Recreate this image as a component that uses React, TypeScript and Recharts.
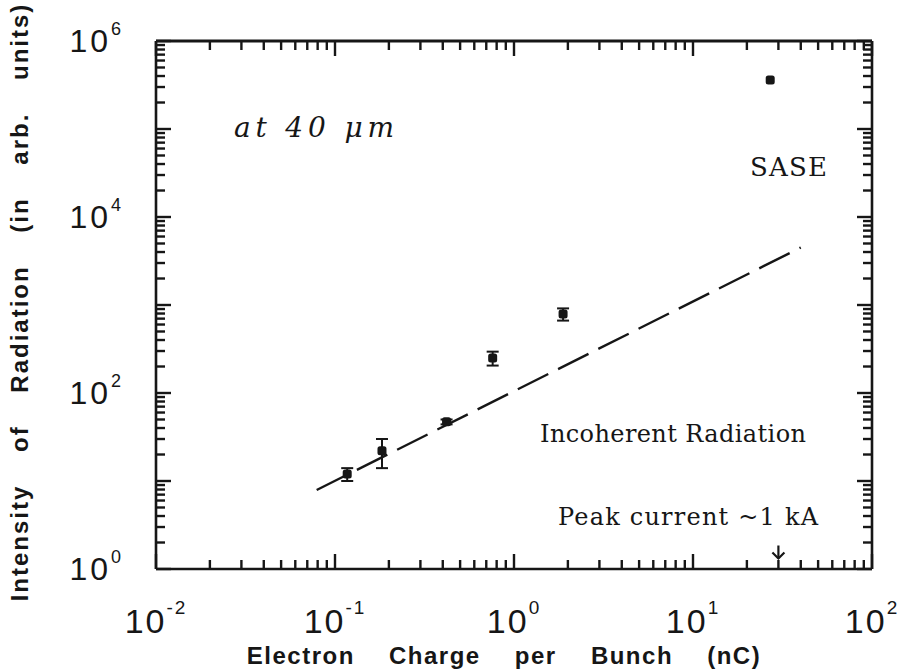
import { ScatterChart, Scatter, XAxis, YAxis, ErrorBar, ReferenceDot, ReferenceLine } from 'recharts';

// measured points: bunch charge (nC), radiated intensity (arb. units), vertical error
const chargeNC = [0.117, 0.183, 0.42, 0.76, 1.88, 27];
const intensity = [12, 22, 47, 250, 790, 360000];
const intensityErr = [2, 8, 3, 45, 125, 0];

// incoherent radiation level (dashed line end points)
const incoherentCharge = [0.079, 40];
const incoherentIntensity = [7.9, 4500];

// decade ticks and their exponents
const xDecades = [0.01, 0.1, 1, 10, 100];
const xExponents = ['-2', '-1', '0', '1', '2'];
const yDecades = [1, 10, 100, 1000, 10000, 100000, 1000000];
const yExponents = ['0', '1', '2', '3', '4', '5', '6'];
const yLabelled = ['0', '2', '4', '6'];
const minorSteps = [1, 2, 3, 4, 5, 6, 7, 8, 9];

// peak current marker (~1 kA)
const peakCurrentCharge = 30;
const peakCurrentMarkY = 1.54;

const W = 906;
const H = 672;
const PLOT_LEFT = 156;
const PLOT_RIGHT = 872;
const PLOT_TOP = 41;
const PLOT_BOTTOM = 569;
const MAJOR = 15;
const MINOR = 9;
const TICK_W = 2.4;
const INK = '#161616';
const SANS = '"Liberation Sans", Arial, Helvetica, sans-serif';
const SERIF = '"DejaVu Serif", "Liberation Serif", serif';

const points = chargeNC.map((q, i) => ({ q, I: intensity[i], err: intensityErr[i] }));
const incoherent = incoherentCharge.map((q, i) => ({ q, I: incoherentIntensity[i] }));

const withMinors = (decades: number[]) =>
  decades.slice(0, -1).flatMap((d) => minorSteps.map((m) => m * d)).concat(decades[decades.length - 1]);

const xTicks = withMinors(xDecades);
const yTicks = withMinors(yDecades);

const decadeIndex = (v: number, decades: number[]) =>
  decades.findIndex((d) => Math.abs(v / d - 1) < 1e-6);

// inward tick marks on bottom and top frame, plus the decade label below
const XTickShape = (props: any) => {
  const { x1, y1, y2, v } = props;
  const bottom = Math.max(y1, y2);
  const top = Math.min(y1, y2);
  const idx = decadeIndex(v, xDecades);
  const len = idx >= 0 ? MAJOR : MINOR;
  return (
    <g>
      <line x1={x1} x2={x1} y1={bottom} y2={bottom - len} stroke={INK} strokeWidth={TICK_W} />
      <line x1={x1} x2={x1} y1={top} y2={top + len} stroke={INK} strokeWidth={TICK_W} />
      {idx >= 0 && (
        <text x={x1} y={bottom + 64} textAnchor="middle" fontFamily={SANS} fontSize={34} letterSpacing={2} fill={INK}>
          10
          <tspan fontSize={19} dy={-19}>{xExponents[idx]}</tspan>
        </text>
      )}
    </g>
  );
};

// inward tick marks on left and right frame, plus the even-decade label
const YTickShape = (props: any) => {
  const { x1, x2, y1, v } = props;
  const left = Math.min(x1, x2);
  const right = Math.max(x1, x2);
  const idx = decadeIndex(v, yDecades);
  const len = idx >= 0 ? MAJOR : MINOR;
  const exp = idx >= 0 ? yExponents[idx] : '';
  return (
    <g>
      <line x1={left} x2={left + len} y1={y1} y2={y1} stroke={INK} strokeWidth={TICK_W} />
      <line x1={right} x2={right - len} y1={y1} y2={y1} stroke={INK} strokeWidth={TICK_W} />
      {yLabelled.includes(exp) && (
        <text x={left - 32} y={y1 + 11} textAnchor="end" fontFamily={SANS} fontSize={32} letterSpacing={3} fill={INK}>
          10
          <tspan fontSize={18} dy={-17}>{exp}</tspan>
        </text>
      )}
    </g>
  );
};

const Dot = (props: any) => (
  <rect x={props.cx - 4.5} y={props.cy - 4.5} width={9} height={9} rx={2.5} fill={INK} />
);

const NoDot = () => <g />;

const DownArrow = (props: any) => {
  const { cx, cy } = props;
  return (
    <g stroke={INK} strokeWidth={2.2} fill="none">
      <line x1={cx} x2={cx} y1={cy - 7} y2={cy + 6} />
      <polyline points={`${cx - 6},${cy} ${cx},${cy + 6} ${cx + 6},${cy}`} />
    </g>
  );
};

export default function App() {
  return (
    <div style={{ position: 'absolute', left: 0, top: 0, width: W, height: H, background: '#fff' }}>
      <ScatterChart
        width={W}
        height={H}
        margin={{ top: PLOT_TOP - 1, right: W - PLOT_RIGHT - 1, bottom: 0, left: 0 }}
      >
        <XAxis
          xAxisId="bottom"
          dataKey="q"
          type="number"
          scale="log"
          domain={[0.01, 100]}
          height={H - PLOT_BOTTOM}
          tickLine={false}
          tick={false}
          axisLine={{ stroke: INK, strokeWidth: 2.6 }}
          allowDataOverflow
        />
        <XAxis
          xAxisId="top"
          orientation="top"
          dataKey="q"
          type="number"
          scale="log"
          domain={[0.01, 100]}
          height={1}
          tickLine={false}
          tick={false}
          axisLine={{ stroke: INK, strokeWidth: 2.8 }}
          allowDataOverflow
        />
        <YAxis
          yAxisId="left"
          dataKey="I"
          type="number"
          scale="log"
          domain={[1, 1000000]}
          width={PLOT_LEFT}
          tickLine={false}
          tick={false}
          axisLine={{ stroke: INK, strokeWidth: 2.6 }}
          allowDataOverflow
        />
        <YAxis
          yAxisId="right"
          orientation="right"
          dataKey="I"
          type="number"
          scale="log"
          domain={[1, 1000000]}
          width={1}
          tickLine={false}
          tick={false}
          axisLine={{ stroke: INK, strokeWidth: 2.6 }}
          allowDataOverflow
        />
        {xTicks.map((v) => (
          <ReferenceLine
            key={`xt-${v}`}
            xAxisId="bottom"
            yAxisId="left"
            x={v}
            ifOverflow="visible"
            shape={<XTickShape v={v} />}
          />
        ))}
        {yTicks.map((v) => (
          <ReferenceLine
            key={`yt-${v}`}
            xAxisId="bottom"
            yAxisId="left"
            y={v}
            ifOverflow="visible"
            shape={<YTickShape v={v} />}
          />
        ))}
        <Scatter
          xAxisId="bottom"
          yAxisId="left"
          data={incoherent}
          line={{ stroke: INK, strokeWidth: 2.4, strokeDasharray: '34 11' }}
          shape={<NoDot />}
          isAnimationActive={false}
        />
        <Scatter xAxisId="bottom" yAxisId="left" data={points} shape={<Dot />} isAnimationActive={false}>
          <ErrorBar dataKey="err" direction="y" width={6} stroke={INK} strokeWidth={2} isAnimationActive={false} />
        </Scatter>
        <ReferenceDot
          xAxisId="bottom"
          yAxisId="left"
          x={peakCurrentCharge}
          y={peakCurrentMarkY}
          shape={<DownArrow />}
        />
      </ScatterChart>
      <svg
        width={W}
        height={H}
        style={{ position: 'absolute', left: 0, top: 0, pointerEvents: 'none' }}
      >
        <text
          transform="translate(28, 302) rotate(-90)"
          textAnchor="middle"
          fontFamily={SANS}
          fontWeight="bold"
          fontSize={24}
          letterSpacing={2}
          wordSpacing={24}
          fill={INK}
        >
          Intensity of Radiation (in arb. units)
        </text>
        <text
          x={504}
          y={664}
          textAnchor="middle"
          fontFamily={SANS}
          fontWeight="bold"
          fontSize={24}
          letterSpacing={1.5}
          wordSpacing={26}
          fill={INK}
        >
          Electron Charge per Bunch (nC)
        </text>
        <text x={234} y={137} fontFamily={SERIF} fontStyle="italic" fontSize={28} textLength={160} lengthAdjust="spacing" fill={INK}>
          at 40 μm
        </text>
        <text x={750} y={176} fontFamily={SERIF} fontSize={26} textLength={77} lengthAdjust="spacing" fill={INK}>
          SASE
        </text>
        <text x={540} y={442} fontFamily={SERIF} fontSize={24} textLength={266} lengthAdjust="spacing" fill={INK}>
          Incoherent Radiation
        </text>
        <text x={558} y={525} fontFamily={SERIF} fontSize={24} textLength={260} lengthAdjust="spacing" fill={INK}>
          Peak current ~1 kA
        </text>
      </svg>
    </div>
  );
}
